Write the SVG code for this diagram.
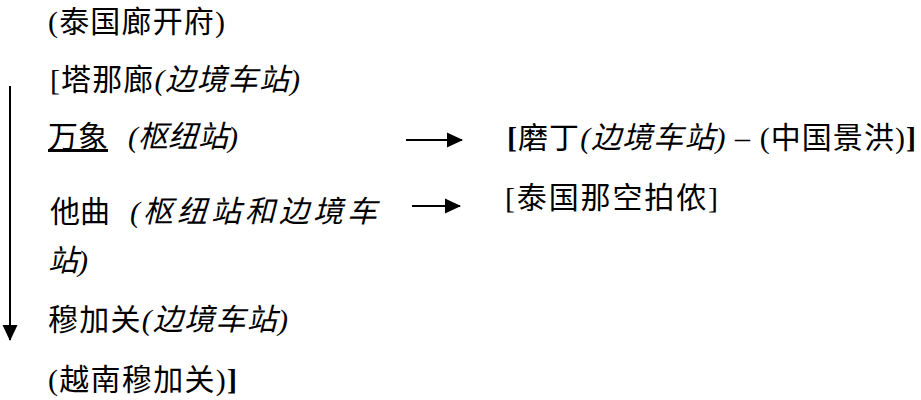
<svg xmlns="http://www.w3.org/2000/svg" width="921" height="400" viewBox="0 0 921 400">
<style>
text { font-family: 'Liberation Serif', 'Noto Sans CJK SC', serif; font-size: 30px; fill: #000; }
.i { font-style: italic; }
.b { font-weight: bold; }
.conn { stroke: #000; stroke-width: 2; fill: none; }
</style>
<defs>
<marker id="ah" viewBox="0 0 16 16" refX="15" refY="8" markerWidth="16" markerHeight="16" markerUnits="userSpaceOnUse" orient="auto">
<path d="M0,0.5 L16,8 L0,15.5 Z" fill="#000"/>
</marker>
</defs>
<g id="connectors">
<line class="conn" x1="10" y1="86" x2="10" y2="340" marker-end="url(#ah)"/>
<line class="conn" x1="406" y1="140" x2="462" y2="140" marker-end="url(#ah)"/>
<line class="conn" x1="412" y1="206" x2="460" y2="206" marker-end="url(#ah)"/>
</g>
<g id="n-nongkhai"><text x="48" y="32" textLength="177" lengthAdjust="spacing">(泰国廊开府)</text></g>
<g id="n-thanaleng"><text x="50" y="90" textLength="250" lengthAdjust="spacing">[塔那廊<tspan class="i">(边境车站)</tspan></text></g>
<g id="n-vientiane"><text y="147"><tspan x="48" text-decoration="underline">万象</tspan><tspan class="i" x="128">(枢纽站)</tspan></text></g>
<g id="n-thakhek"><text y="222"><tspan x="50">他曲</tspan><tspan class="i" x="130">(</tspan><tspan class="i" x="143" letter-spacing="4">枢纽站和边境车</tspan></text>
<text x="48" y="271" class="i">站)</text></g>
<g id="n-mugia"><text x="48" y="330" textLength="240" lengthAdjust="spacing">穆加关<tspan class="i">(边境车站)</tspan></text>
<text x="48" y="390" textLength="189" lengthAdjust="spacing">(越南穆加关)<tspan class="b">]</tspan></text></g>
<g id="n-boten"><text x="507" y="148" textLength="409" lengthAdjust="spacing"><tspan class="b">[</tspan>磨丁<tspan class="i">(边境车站)</tspan> – (中国景洪)<tspan class="b">]</tspan></text></g>
<g id="n-nakhonphanom"><text x="505" y="208" textLength="213" lengthAdjust="spacing">[泰国那空拍侬]</text></g>
</svg>
